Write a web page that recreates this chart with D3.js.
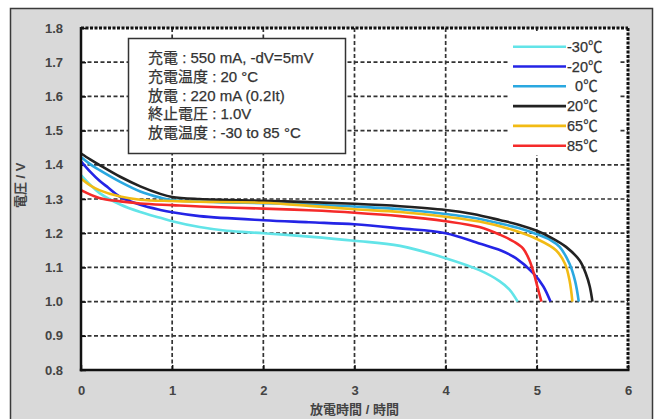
<!DOCTYPE html>
<html><head><meta charset="utf-8">
<script src="https://cdn.jsdelivr.net/npm/d3@7"></script>
<style>
html,body{margin:0;padding:0;background:#fff;}
svg{display:block;}
text{font-family:"Liberation Sans",Arial,"Noto Sans CJK JP",sans-serif;}
</style></head>
<body>
<svg id="chart" width="663" height="419"></svg>
<script>
// ---- data ----
const SERIES_NAMES = ["-30℃", "-20℃", "\u20070℃", "20℃", "65℃", "85℃"];
const SERIES_COLORS = ["#62e4e8", "#2424e6", "#2aa8e0", "#222222", "#f2bb14", "#f52a2a"];

// discharge time (h), voltage (V)
const cM30 = [[0,1.37],[0.1,1.342],[0.2,1.318],[0.43,1.284],[0.65,1.262],[0.87,1.245],[1,1.235],[1.3,1.218],[1.6,1.207],[2,1.2],[2.5,1.19],[3,1.178],[3.5,1.163],[4,1.127],[4.37,1.092],[4.59,1.06],[4.7,1.035],[4.79,1.0]];
const cM20 = [[0,1.41],[0.1,1.38],[0.2,1.354],[0.3,1.333],[0.43,1.306],[0.65,1.283],[0.87,1.268],[1,1.261],[1.3,1.25],[2,1.238],[2.5,1.232],[3,1.226],[3.5,1.214],[4,1.2],[4.37,1.17],[4.6,1.15],[4.77,1.127],[4.96,1.083],[5.07,1.045],[5.15,1.0]];
const c0   = [[0,1.423],[0.1,1.402],[0.2,1.385],[0.43,1.35],[0.65,1.322],[0.87,1.304],[1,1.297],[1.5,1.291],[2,1.288],[2.5,1.284],[3,1.278],[3.5,1.27],[4,1.256],[4.3,1.245],[4.6,1.228],[4.8,1.215],[5,1.197],[5.15,1.18],[5.25,1.16],[5.36,1.11],[5.42,1.06],[5.46,1.0]];
const c20  = [[0,1.433],[0.1,1.416],[0.2,1.40],[0.43,1.365],[0.65,1.337],[0.87,1.315],[1,1.306],[1.3,1.3],[2,1.295],[2.5,1.291],[3,1.286],[3.5,1.279],[4,1.268],[4.3,1.256],[4.6,1.238],[4.8,1.225],[5,1.207],[5.15,1.188],[5.32,1.16],[5.47,1.12],[5.54,1.08],[5.58,1.045],[5.61,1.0]];
const c65  = [[0,1.36],[0.1,1.34],[0.2,1.326],[0.43,1.307],[0.65,1.298],[1,1.294],[1.3,1.292],[2,1.289],[2.5,1.28],[3,1.27],[3.5,1.262],[4,1.248],[4.37,1.234],[4.73,1.21],[5,1.183],[5.21,1.15],[5.31,1.11],[5.36,1.06],[5.39,1.0]];
const c85  = [[0,1.326],[0.2,1.303],[0.43,1.293],[0.65,1.287],[1,1.282],[1.3,1.278],[2,1.272],[2.5,1.267],[3,1.26],[3.5,1.25],[4,1.235],[4.37,1.218],[4.6,1.195],[4.75,1.175],[4.85,1.155],[4.92,1.12],[4.97,1.08],[5.01,1.04],[5.05,1.0]];
const SERIES_DATA = [cM30, cM20, c0, c20, c65, c85];

const X_TICKS = [0,1,2,3,4,5,6];
const Y_TICKS = [0.8,0.9,1.0,1.1,1.2,1.3,1.4,1.5,1.6,1.7,1.8];
const NOTE_LINES = ["充電 : 550 mA, -dV=5mV", "充電温度 : 20 °C", "放電 : 220 mA (0.2It)", "終止電圧 : 1.0V", "放電温度 : -30 to 85 °C"];
const X_TITLE = "放電時間 / 時間";
const Y_TITLE = "電圧 / V";

// ---- drawing ----
const svg = d3.select("#chart");
const x = d3.scaleLinear().domain([0,6]).range([81,628]);
const y = d3.scaleLinear().domain([0.8,1.8]).range([370,28]);

// outer frame
svg.append("rect").attr("x",10.5).attr("y",8.5).attr("width",642).attr("height",430)
  .attr("fill","#d9d9d9").attr("stroke","#3a3a3a").attr("stroke-width",1.5);

// plot background
svg.append("rect").attr("x",x(0)).attr("y",y(1.8)).attr("width",x(6)-x(0)).attr("height",y(0.8)-y(1.8)).attr("fill","#fff");

// gridlines
const grid = svg.append("g").attr("stroke","#333").attr("stroke-width",1.7).attr("stroke-dasharray","4,2.5");
grid.selectAll(".h").data(Y_TICKS.filter(v=>v>0.85&&v<1.75)).join("line")
  .attr("x1",x(0)).attr("x2",x(6)).attr("y1",d=>y(d)).attr("y2",d=>y(d));
grid.selectAll(".v").data(X_TICKS.filter(v=>v>0&&v<6)).join("line")
  .attr("y1",y(0.8)).attr("y2",y(1.8)).attr("x1",d=>x(d)).attr("x2",d=>x(d));

// legend background (covers grid)
const lg = svg.append("g");
lg.append("rect").attr("x",508).attr("y",31).attr("width",110).attr("height",124).attr("fill","#fff");

// annotation box
const nb = svg.append("g");
nb.append("rect").attr("x",128.5).attr("y",38.5).attr("width",217).attr("height",115)
  .attr("fill","#fff").attr("stroke","#333").attr("stroke-width",1.5);
nb.selectAll("text").data(NOTE_LINES).join("text")
  .attr("x",148).attr("y",(d,i)=>63+i*18.8)
  .attr("font-size",15).attr("fill","#333").attr("stroke","#333").attr("stroke-width",0.25).text(d=>d);

// axes (ticks + labels)
const xAxis = d3.axisBottom(x).tickValues(X_TICKS).tickSize(-5).tickPadding(16).tickFormat(d3.format("d"));
const gx = svg.append("g").attr("transform",`translate(0,${y(0.8)})`).call(xAxis);
const yAxis = d3.axisLeft(y).tickValues(Y_TICKS).tickSize(-5).tickPadding(18).tickFormat(d3.format(".1f"));
const gy = svg.append("g").attr("transform",`translate(${x(0)},0)`).call(yAxis);
[gx,gy].forEach(g=>{
  g.select(".domain").remove();
  g.selectAll(".tick line").attr("stroke","#111").attr("stroke-width",1.5);
  g.selectAll(".tick text").attr("font-size",13).attr("font-weight","bold").attr("fill","#444")
   .style("font-family","'Liberation Sans',Arial,sans-serif");
});

// series lines
const line = d3.line().x(d=>x(d[0])).y(d=>y(d[1])).curve(d3.curveCatmullRom.alpha(0.5));
svg.append("g").selectAll("path").data(SERIES_DATA).join("path")
  .attr("d",line).attr("fill","none")
  .attr("stroke",(d,i)=>SERIES_COLORS[i]).attr("stroke-width",2.6);

// plot borders
svg.append("line").attr("x1",x(0)).attr("x2",x(6)).attr("y1",y(1.8)).attr("y2",y(1.8))
  .attr("stroke","#111").attr("stroke-width",3).attr("stroke-dasharray","3,1.5");
svg.append("line").attr("x1",x(6)).attr("x2",x(6)).attr("y1",y(1.8)).attr("y2",y(0.8))
  .attr("stroke","#111").attr("stroke-width",3).attr("stroke-dasharray","3,1.5");
svg.append("line").attr("x1",x(0)).attr("x2",x(0)).attr("y1",y(1.8)-1).attr("y2",y(0.8)+1.2)
  .attr("stroke","#111").attr("stroke-width",2.5);
svg.append("line").attr("x1",x(0)-1.2).attr("x2",x(6)+1.5).attr("y1",y(0.8)).attr("y2",y(0.8))
  .attr("stroke","#111").attr("stroke-width",2.5);

// legend
const rows = lg.selectAll(".row").data(SERIES_NAMES).join("g").attr("class","row")
  .attr("transform",(d,i)=>`translate(0,${46.7+i*19.8})`);
rows.append("line").attr("x1",513).attr("x2",566).attr("y1",0).attr("y2",0)
  .attr("stroke",(d,i)=>SERIES_COLORS[i]).attr("stroke-width",2.6);
rows.append("text").attr("x",567).attr("y",5).attr("font-size",14.5).attr("fill","#333")
  .attr("stroke","#333").attr("stroke-width",0.25)
  .style("white-space","pre").text(d=>d);

// axis titles
svg.append("text").attr("x",x(3)).attr("y",414).attr("text-anchor","middle")
  .attr("font-size",13).attr("font-weight","bold").attr("fill","#444").text(X_TITLE);
svg.append("text").attr("transform",`translate(25,${y(1.34)}) rotate(-90)`).attr("text-anchor","middle")
  .attr("font-size",13).attr("font-weight","bold").attr("fill","#444").text(Y_TITLE);
</script>
</body></html>
